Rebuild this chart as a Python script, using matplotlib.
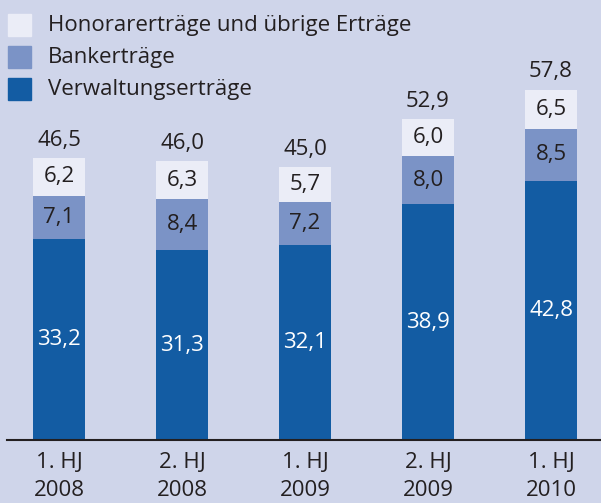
import matplotlib.pyplot as plt
import numpy as np

plt.rcParams['font.family'] = ['Open Sans', 'DejaVu Sans']

categories = ['1. HJ\n2008', '2. HJ\n2008', '1. HJ\n2009', '2. HJ\n2009', '1. HJ\n2010']
verwaltung = [33.2, 31.3, 32.1, 38.9, 42.8]
bank = [7.1, 8.4, 7.2, 8.0, 8.5]
honorar = [6.2, 6.3, 5.7, 6.0, 6.5]
totals = [46.5, 46.0, 45.0, 52.9, 57.8]

bg = '#cfd5ea'
c_dark = '#135ca3'
c_mid = '#7b93c6'
c_light = '#ebedf7'
txt = '#231f20'

def fmt(v):
    return f"{v:.1f}".replace('.', ',')

W, H = 601, 503
PX = 6.06  # pixels per unit
fig = plt.figure(figsize=(W / 100, H / 100), dpi=100, facecolor=bg)
ax = fig.add_axes([0, 63 / H, 1, 1 - 63 / H])
ax.set_facecolor(bg)

x = np.arange(len(categories))
bw = 0.43
ax.bar(x, verwaltung, bw, color=c_dark)
ax.bar(x, bank, bw, bottom=verwaltung, color=c_mid)
bot2 = np.array(verwaltung) + np.array(bank)
ax.bar(x, honorar, bw, bottom=bot2, color=c_light)

for i in range(len(x)):
    ax.text(x[i], verwaltung[i] / 2, fmt(verwaltung[i]), ha='center', va='center',
            color='white', fontsize=16)
    ax.text(x[i], verwaltung[i] + bank[i] / 2, fmt(bank[i]), ha='center', va='center',
            color=txt, fontsize=16)
    ax.text(x[i], bot2[i] + honorar[i] / 2, fmt(honorar[i]), ha='center', va='center',
            color=txt, fontsize=16)
    ax.text(x[i], totals[i] + 3.0, fmt(totals[i]), ha='center', va='center',
            color=txt, fontsize=16)

ax.set_xlim(-59 / 123, (W - 59) / 123)
ax.set_ylim(0, 440 / PX)
for s in ax.spines.values():
    s.set_visible(False)
ax.set_xticks([])
ax.set_yticks([])
ax.axhline(0, xmin=7 / W, xmax=1, color=txt, lw=1.5, clip_on=False)

for i, lab in enumerate(categories):
    l1, l2 = lab.split('\n')
    ax.text(x[i], -23 / PX, l1, ha='center', va='center', color=txt, fontsize=16)
    ax.text(x[i], -50 / PX, l2, ha='center', va='center', color=txt, fontsize=16)

# legend
legend_items = [('Honorarerträge und übrige Erträge', c_light),
                ('Bankerträge', c_mid),
                ('Verwaltungserträge', c_dark)]
for k, (lab, col) in enumerate(legend_items):
    yc = 25 + 32 * k
    fig.patches.append(plt.Rectangle((8 / W, 1 - (yc + 11) / H), 23 / W, 22 / H,
                                     transform=fig.transFigure, color=col))
    fig.text(48 / W, 1 - yc / H, lab, ha='left', va='center', color=txt, fontsize=16)

fig.savefig('out.png', dpi=100, facecolor=bg)
